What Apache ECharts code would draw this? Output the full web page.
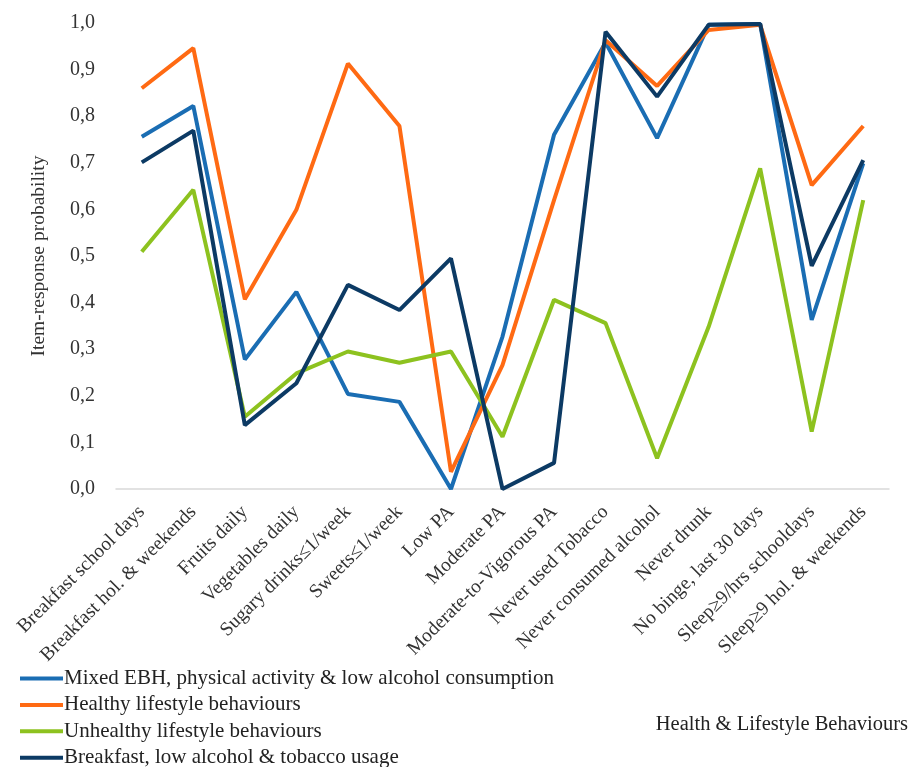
<!DOCTYPE html>
<html>
<head>
<meta charset="utf-8">
<script src="https://cdn.jsdelivr.net/npm/echarts@6/dist/echarts.min.js"></script>
<style>
  html, body { margin: 0; padding: 0; background: #fff; }
  #chart { width: 909px; height: 767px; }
</style>
</head>
<body>
<div id="chart"></div>
<script>
// Behaviour items along the x axis
const categories = [
  'Breakfast school days', 'Breakfast hol. & weekends', 'Fruits daily', 'Vegetables daily',
  'Sugary drinks≤1/week', 'Sweets≤1/week', 'Low PA', 'Moderate PA', 'Moderate-to-Vigorous PA',
  'Never used Tobacco', 'Never consumed alcohol', 'Never drunk', 'No binge, last 30 days',
  'Sleep≥9/hrs schooldays', 'Sleep≥9 hol. & weekends'
];

// Item-response probabilities per latent class
const mixedEBH = [0.756, 0.822, 0.278, 0.423, 0.204, 0.187, 0.0, 0.327, 0.760, 0.958, 0.753, 0.996, 0.998, 0.363, 0.699];
const healthy = [0.860, 0.946, 0.407, 0.599, 0.913, 0.779, 0.037, 0.266, 0.620, 0.963, 0.865, 0.985, 0.996, 0.652, 0.779];
const unhealthy = [0.509, 0.642, 0.155, 0.248, 0.295, 0.271, 0.295, 0.112, 0.406, 0.356, 0.066, 0.348, 0.688, 0.123, 0.620];
const breakfastLowAlc = [0.701, 0.769, 0.137, 0.227, 0.438, 0.384, 0.495, 0.0, 0.056, 0.981, 0.842, 0.996, 0.998, 0.479, 0.706];

const seriesNames = [
  'Mixed EBH, physical activity & low alcohol consumption',
  'Healthy lifestyle behaviours',
  'Unhealthy lifestyle behaviours',
  'Breakfast, low alcohol & tobacco usage'
];
const seriesData = [mixedEBH, healthy, unhealthy, breakfastLowAlc];
const colors = ['#1a6db3', '#ff6a13', '#8dc21f', '#0c3a64'];

const serif = '"Liberation Serif", "DejaVu Serif", serif';

const chart = echarts.init(document.getElementById('chart'));

// One legend block per row so the list stays in a single column
const legends = seriesNames.map((name, i) => ({
  data: [name],
  left: 20,
  top: 668 + i * 26.4,
  padding: 0,
  icon: 'rect',
  itemWidth: 43,
  itemHeight: 4,
  textStyle: {
    fontFamily: serif, fontSize: 21, color: '#222',
    padding: [0, 0, 0, -4]
  }
}));

chart.setOption({
  animation: false,
  backgroundColor: '#ffffff',
  grid: { left: 116, right: 20, top: 23, bottom: 278 },
  legend: legends,
  xAxis: {
    type: 'category',
    data: categories,
    boundaryGap: true,
    axisLine: { show: true, lineStyle: { color: '#d9d9d9', width: 1.5 } },
    axisTick: { show: false },
    splitLine: { show: false },
    axisLabel: {
      interval: 0,
      rotate: 45,
      margin: 20,
      fontFamily: serif,
      fontSize: 19.5,
      color: '#333'
    }
  },
  yAxis: {
    type: 'value',
    min: 0,
    max: 1,
    interval: 0.1,
    name: 'Item-response probability',
    nameLocation: 'middle',
    nameGap: 67,
    nameTextStyle: { fontFamily: serif, fontSize: 19.5, color: '#333' },
    axisLine: { show: false },
    axisTick: { show: false },
    splitLine: { show: false },
    axisLabel: {
      margin: 21,
      fontFamily: serif,
      fontSize: 20,
      color: '#333',
      formatter: v => v.toFixed(1).replace('.', ',')
    }
  },
  graphic: [{
    type: 'text',
    right: 1,
    top: 714,
    style: {
      text: 'Health & Lifestyle Behaviours',
      fontFamily: serif,
      fontSize: 20.5,
      fill: '#222'
    }
  }],
  series: seriesData.map((d, i) => ({
    name: seriesNames[i],
    type: 'line',
    data: d,
    symbol: 'none',
    color: colors[i],
    lineStyle: { width: 4, color: colors[i] }
  }))
});
</script>
</body>
</html>
